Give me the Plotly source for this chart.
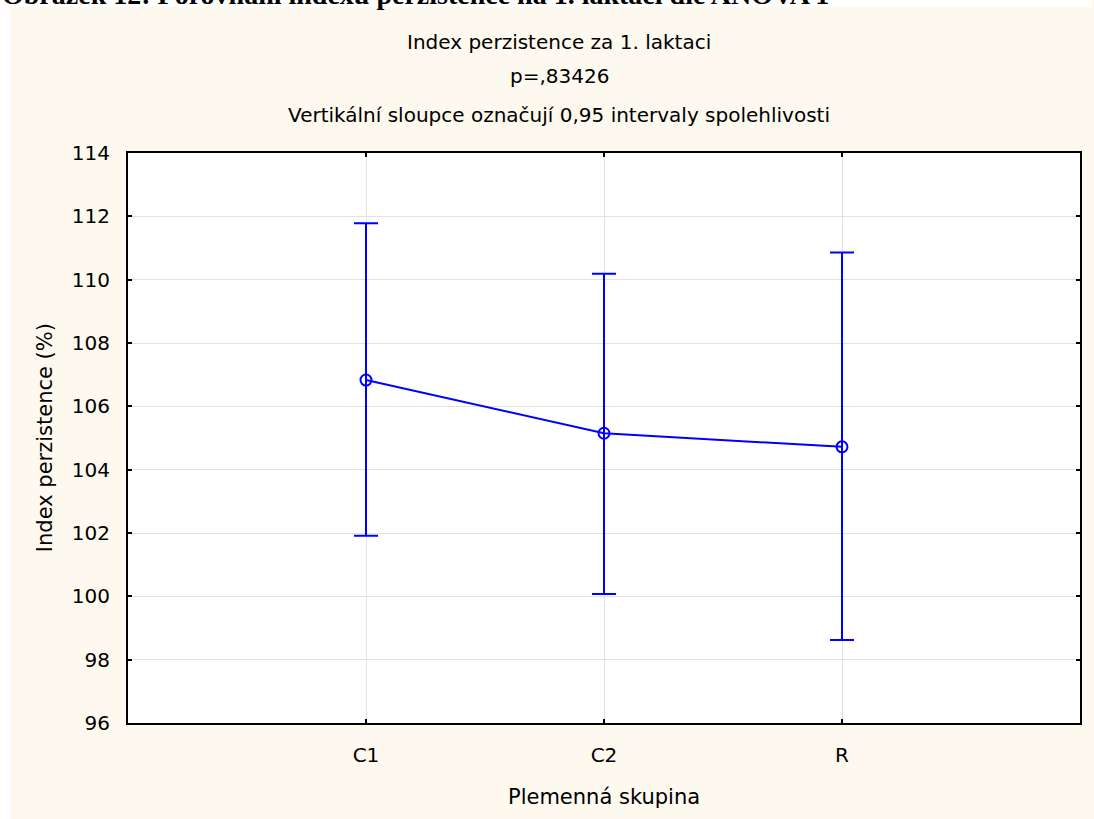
import plotly.graph_objects as go

groups = ["C1", "C2", "R"]
means = [106.83, 105.15, 104.72]
upper = [111.78, 110.19, 110.86]
lower = [101.91, 100.07, 98.62]
y_ticks = [96, 98, 100, 102, 104, 106, 108, 110, 112, 114]

title_lines = ["Index perzistence za 1. laktaci", "p=,83426",
               "Vertikální sloupce označují 0,95 intervaly spolehlivosti"]
caption = "Obrázek 12: Porovnání indexu perzistence na 1. laktaci dle ANOVA 1"
x_title = "Plemenná skupina"
y_title = "Index perzistence (%)"

W, H = 1094, 819
L, R, T, B = 128, 12, 153, 96
pw, ph = W - L - R, H - T - B

def px_x(x):
    return (x - L) / pw

def px_y(y):
    return 1 + (T - y) / ph

blue = "#0000FF"
cream = "#FDF9EF"
font = "DejaVu Sans, Liberation Sans, Arial, sans-serif"

fig = go.Figure()
fig.add_trace(go.Scatter(
    x=groups, y=means, mode="lines+markers",
    line=dict(color=blue, width=2),
    marker=dict(symbol="circle-open", size=11, color=blue, line=dict(width=2, color=blue)),
    error_y=dict(type="data", symmetric=False,
                 array=[u - m for u, m in zip(upper, means)],
                 arrayminus=[m - l for m, l in zip(means, lower)],
                 color=blue, thickness=2, width=12),
    showlegend=False,
))

axis_common = dict(showline=True, linecolor="black", linewidth=2, mirror="allticks",
                   ticks="inside", ticklen=4, tickcolor="black", tickwidth=2,
                   showgrid=True, gridcolor="#E2E2E2", gridwidth=1, zeroline=False,
                   tickfont=dict(family=font, size=20, color="black"))

fig.update_xaxes(type="category", range=[-1, 3], ticklabelstandoff=13, **axis_common)
fig.update_yaxes(range=[96, 114], tickvals=y_ticks, ticklabelstandoff=12, **axis_common)

annots = []
for txt, yp in zip(title_lines, [42, 76, 115]):
    annots.append(dict(text=txt, x=px_x(560), y=px_y(yp), xref="paper", yref="paper",
                       xanchor="center", yanchor="middle", showarrow=False,
                       font=dict(family=font, size=20, color="black")))
annots.append(dict(text=x_title, x=px_x(605), y=px_y(797), xref="paper", yref="paper",
                   xanchor="center", yanchor="middle", showarrow=False,
                   font=dict(family=font, size=21, color="black")))
annots.append(dict(text=y_title, x=px_x(45), y=px_y(438), xref="paper", yref="paper",
                   xanchor="center", yanchor="middle", showarrow=False, textangle=-90,
                   font=dict(family=font, size=21, color="black")))
annots.append(dict(text="<b>" + caption + "</b>", x=px_x(0), y=px_y(-6), xref="paper", yref="paper",
                   xanchor="left", yanchor="middle", showarrow=False,
                   font=dict(family="Liberation Serif, Times New Roman, serif", size=28, color="black")))

shapes = [
    dict(type="rect", xref="paper", yref="paper", x0=px_x(0), x1=px_x(W), y0=px_y(0), y1=px_y(7),
         fillcolor="white", line=dict(width=0), layer="below"),
    dict(type="rect", xref="paper", yref="paper", x0=px_x(0), x1=px_x(10), y0=px_y(0), y1=px_y(H),
         fillcolor="white", line=dict(width=0), layer="below"),
]

fig.update_layout(
    width=W, height=H,
    margin=dict(l=L, r=R, t=T, b=B),
    paper_bgcolor=cream, plot_bgcolor="white",
    annotations=annots, shapes=shapes,
)

fig.write_html("out.html")
